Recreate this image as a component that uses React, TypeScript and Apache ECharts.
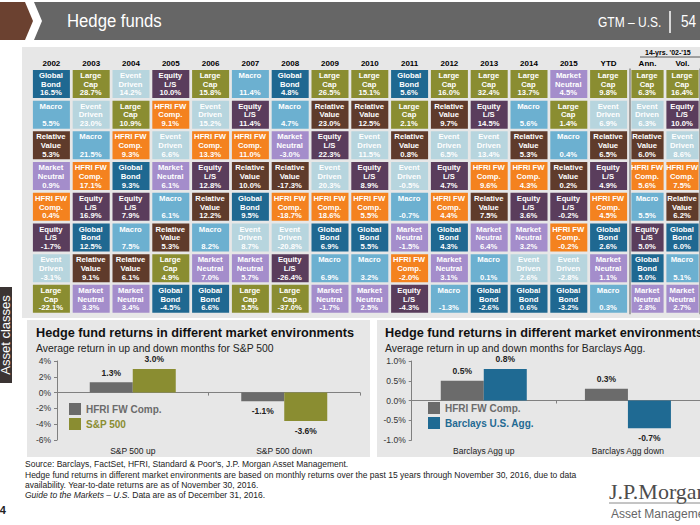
import React, { useEffect, useRef } from "react";
import * as echarts from "echarts";

const FONT = '"Liberation Sans", Arial, sans-serif';

// ---------- Quilt table data (ranked top to bottom in each column) ----------
const mainColumns = ["2002", "2003", "2004", "2005", "2006", "2007", "2008", "2009", "2010", "2011", "2012", "2013", "2014", "2015", "YTD"];
const statColumns = ["Ann.", "Vol."];
const ranks = ["1", "2", "3", "4", "5", "6", "7", "8"];

const r2002 = [["GB", 16.5], ["MA", 5.5], ["RV", 5.3], ["MN", 0.9], ["HF", 0.4], ["EQ", -1.7], ["ED", -3.1], ["LC", -22.1]];
const r2003 = [["LC", 28.7], ["ED", 23.0], ["MA", 21.5], ["HF", 17.1], ["EQ", 16.9], ["GB", 12.5], ["RV", 9.1], ["MN", 3.3]];
const r2004 = [["ED", 14.2], ["LC", 10.9], ["HF", 9.3], ["GB", 9.3], ["EQ", 7.9], ["MA", 7.5], ["RV", 6.1], ["MN", 3.4]];
const r2005 = [["EQ", 10.0], ["HF", 9.1], ["ED", 6.6], ["MN", 6.1], ["MA", 6.1], ["RV", 5.3], ["LC", 4.9], ["GB", -4.5]];
const r2006 = [["LC", 15.8], ["ED", 15.2], ["HF", 13.3], ["EQ", 12.8], ["RV", 12.2], ["MA", 8.2], ["MN", 7.0], ["GB", 6.6]];
const r2007 = [["MA", 11.4], ["EQ", 11.4], ["HF", 11.0], ["RV", 10.0], ["GB", 9.5], ["ED", 8.7], ["MN", 5.7], ["LC", 5.5]];
const r2008 = [["GB", 4.8], ["MA", 4.7], ["MN", -3.0], ["RV", -17.3], ["HF", -18.7], ["ED", -20.8], ["EQ", -26.4], ["LC", -37.0]];
const r2009 = [["LC", 26.5], ["RV", 23.0], ["EQ", 22.3], ["ED", 20.3], ["HF", 18.6], ["GB", 6.9], ["MA", 6.9], ["MN", -1.7]];
const r2010 = [["LC", 15.1], ["RV", 12.5], ["ED", 11.5], ["EQ", 8.9], ["HF", 5.5], ["GB", 5.5], ["MA", 3.2], ["MN", 2.5]];
const r2011 = [["GB", 5.6], ["LC", 2.1], ["RV", 0.8], ["ED", -0.5], ["MA", -0.7], ["MN", -1.5], ["HF", -2.0], ["EQ", -4.3]];
const r2012 = [["LC", 16.0], ["RV", 9.7], ["ED", 6.5], ["EQ", 4.7], ["HF", 4.4], ["GB", 4.3], ["MN", 3.1], ["MA", -1.3]];
const r2013 = [["LC", 32.4], ["EQ", 14.5], ["ED", 13.4], ["HF", 9.6], ["RV", 7.5], ["MN", 6.4], ["MA", 0.1], ["GB", -2.6]];
const r2014 = [["LC", 13.7], ["MA", 5.6], ["RV", 5.3], ["HF", 4.3], ["EQ", 3.6], ["MN", 3.2], ["ED", 2.6], ["GB", 0.6]];
const r2015 = [["MN", 4.5], ["LC", 1.4], ["MA", 0.4], ["RV", 0.2], ["EQ", -0.2], ["HF", -0.2], ["ED", -2.8], ["GB", -3.2]];
const rYTD = [["LC", 9.8], ["ED", 6.9], ["RV", 6.5], ["EQ", 4.9], ["HF", 4.5], ["GB", 2.6], ["MN", 1.1], ["MA", 0.3]];
const rAnn = [["LC", 6.3], ["ED", 6.3], ["RV", 6.0], ["HF", 5.6], ["MA", 5.5], ["EQ", 5.0], ["GB", 5.0], ["MN", 2.8]];
const rVol = [["LC", 16.4], ["EQ", 10.0], ["ED", 8.6], ["HF", 7.5], ["RV", 6.2], ["GB", 6.0], ["MA", 5.1], ["MN", 2.7]];

const strategyNames: Record<string, string> = {
  GB: "Global\nBond",
  LC: "Large\nCap",
  ED: "Event\nDriven",
  EQ: "Equity\nL/S",
  MA: "Macro\n",
  HF: "HFRI FW\nComp.",
  RV: "Relative\nValue",
  MN: "Market\nNeutral",
};

// ---------- Bar chart data ----------
const spxCategories = ["S&P 500 up", "S&P 500 down"];
const spxHfri = [1.3, -1.1];
const spxIndex = [3.0, -3.6];
const aggCategories = ["Barclays Agg up", "Barclays Agg down"];
const aggHfri = [0.5, 0.3];
const aggIndex = [0.8, -0.7];

// ---------- Styles ----------
const strategyColors: Record<string, string> = {
  GB: "#1f6891",
  LC: "#8a8d31",
  ED: "#b7d5de",
  EQ: "#5a3d5c",
  MA: "#6cb0d0",
  HF: "#f4821f",
  RV: "#5f3b2b",
  MN: "#a48dcb",
};
const GRAY = "#6b6b6b";
const OLIVE = "#8a8d31";
const BLUE = "#1f6a93";
const PANEL = "#e7e7e7";

const fmtPct = (v: number) => v.toFixed(1) + "%";

type Cell = { col: number; row: number; code: string; value: number };
const toCells = (cols: any[][]): Cell[] => {
  const out: Cell[] = [];
  cols.forEach((col, ci) =>
    col.forEach((entry: any, ri: number) => out.push({ col: ci, row: ri, code: entry[0], value: entry[1] }))
  );
  return out;
};
const mainCells = toCells([r2002, r2003, r2004, r2005, r2006, r2007, r2008, r2009, r2010, r2011, r2012, r2013, r2014, r2015, rYTD]);
const statCells = toCells([rAnn, rVol]);

const makeRender = (cells: Cell[]) => (params: any, api: any) => {
  const c = cells[params.dataIndex];
  const p = api.coord([c.col, c.row]);
  const s = api.size([1, 1]);
  const w = Math.min(Math.abs(s[0]) - 2.8, 37.5);
  const h = Math.abs(s[1]) - 2.7;
  return {
    type: "group",
    children: [
      {
        type: "rect",
        shape: { x: p[0] - w / 2, y: p[1] - h / 2, width: w, height: h },
        style: { fill: strategyColors[c.code] },
      },
      {
        type: "text",
        x: p[0] - 0.5,
        y: p[1] + 0.3,
        style: {
          text: strategyNames[c.code] + "\n" + fmtPct(c.value),
          fill: "#ffffff",
          fontSize: 7.7,
          fontWeight: "bold",
          fontFamily: FONT,
          align: "center",
          verticalAlign: "middle",
          textAlign: "center",
          textVerticalAlign: "middle",
          lineHeight: 8.7,
        },
      },
    ],
  };
};

const barData = (arr: number[]) =>
  arr.map((v) => ({ value: v, label: { position: v >= 0 ? "top" : "bottom" } }));

const barLabel = {
  show: true,
  formatter: (p: any) => fmtPct(p.value),
  fontSize: 8.5,
  fontWeight: "bold",
  color: "#222",
  distance: 5,
};

const headerLabel = { fontSize: 8, fontWeight: "bold", color: "#000", margin: 1 };

const valueAxisBase = {
  type: "value",
  axisLine: { show: true, lineStyle: { color: "#808080" } },
  axisTick: { show: true, length: 3, lineStyle: { color: "#808080" } },
  splitLine: { show: false },
};

const option: any = {
  animation: false,
  textStyle: { fontFamily: FONT },
  grid: [
    { left: 31.5, top: 68.6, width: 597, height: 245.6 },
    { left: 630, top: 68.6, width: 90, height: 245.6 },
    { left: 57, top: 361, width: 303, height: 79 },
    { left: 411.7, top: 361, width: 300, height: 79 },
  ],
  xAxis: [
    {
      type: "category", gridIndex: 0, position: "top", data: mainColumns,
      axisLine: { show: false }, axisTick: { show: false }, axisLabel: headerLabel,
    },
    {
      type: "category", gridIndex: 1, position: "top", data: statColumns,
      axisLine: { show: false }, axisTick: { show: false }, axisLabel: headerLabel,
      splitLine: { show: true, interval: (i: number) => i === 1, lineStyle: { color: "#8c8c8c", width: 1.5 } },
    },
    {
      type: "category", gridIndex: 2, position: "bottom", data: spxCategories,
      axisLine: { show: true, onZero: true, lineStyle: { color: "#808080" } },
      axisTick: { show: true, length: 3, lineStyle: { color: "#808080" } },
      axisLabel: { show: false },
    },
    {
      type: "category", gridIndex: 2, position: "bottom", data: spxCategories,
      axisLine: { show: false, onZero: false }, axisTick: { show: false },
      axisLabel: { fontSize: 8.5, color: "#222", margin: 6 },
    },
    {
      type: "category", gridIndex: 3, position: "bottom", data: aggCategories,
      axisLine: { show: true, onZero: true, lineStyle: { color: "#808080" } },
      axisTick: { show: true, length: 3, lineStyle: { color: "#808080" } },
      axisLabel: { show: false },
    },
    {
      type: "category", gridIndex: 3, position: "bottom", data: aggCategories,
      axisLine: { show: false, onZero: false }, axisTick: { show: false },
      axisLabel: { fontSize: 8.5, color: "#222", margin: 6 },
    },
  ],
  yAxis: [
    { type: "category", gridIndex: 0, data: ranks, inverse: true, show: false },
    { type: "category", gridIndex: 1, data: ranks, inverse: true, show: false },
    {
      ...valueAxisBase, gridIndex: 2, min: -6, max: 4, interval: 2,
      axisLabel: { formatter: (v: number) => v + "%", fontSize: 8.5, color: "#333", margin: 6 },
    },
    {
      ...valueAxisBase, gridIndex: 3, min: -1, max: 1, interval: 0.5,
      axisLabel: { formatter: (v: number) => v.toFixed(1) + "%", fontSize: 8.5, color: "#333", margin: 6 },
    },
  ],
  legend: [
    {
      left: 69, top: 403, orient: "vertical", padding: 0, itemWidth: 12, itemHeight: 12, itemGap: 3,
      icon: "rect", selectedMode: false,
      textStyle: { fontSize: 10, fontWeight: "bold" },
      data: [
        { name: "HFRI FW Comp.", textStyle: { color: GRAY } },
        { name: "S&P 500", textStyle: { color: OLIVE } },
      ],
    },
    {
      left: 428, top: 402, orient: "vertical", padding: 0, itemWidth: 12, itemHeight: 12, itemGap: 3,
      icon: "rect", selectedMode: false,
      textStyle: { fontSize: 10, fontWeight: "bold" },
      data: [
        { name: "HFRI FW Comp.", textStyle: { color: GRAY } },
        { name: "Barclays U.S. Agg.", textStyle: { color: BLUE } },
      ],
    },
  ],
  series: [
    {
      type: "custom", name: "quilt", xAxisIndex: 0, yAxisIndex: 0,
      data: mainCells.map((c) => [c.col, c.row]),
      renderItem: makeRender(mainCells),
    },
    {
      type: "custom", name: "quilt14", xAxisIndex: 1, yAxisIndex: 1,
      data: statCells.map((c) => [c.col, c.row]),
      renderItem: makeRender(statCells),
    },
    {
      type: "bar", name: "HFRI FW Comp.", xAxisIndex: 2, yAxisIndex: 2,
      data: barData(spxHfri), barWidth: 43, barGap: "0%", itemStyle: { color: GRAY }, label: barLabel,
    },
    {
      type: "bar", name: "S&P 500", xAxisIndex: 2, yAxisIndex: 2,
      data: barData(spxIndex), barWidth: 43, barGap: "0%", itemStyle: { color: OLIVE }, label: barLabel,
    },
    {
      type: "bar", name: "HFRI FW Comp.", xAxisIndex: 4, yAxisIndex: 3,
      data: barData(aggHfri), barWidth: 43, barGap: "0%", itemStyle: { color: GRAY }, label: barLabel,
    },
    {
      type: "bar", name: "Barclays U.S. Agg.", xAxisIndex: 4, yAxisIndex: 3,
      data: barData(aggIndex), barWidth: 43, barGap: "0%", itemStyle: { color: BLUE }, label: barLabel,
    },
  ],
  graphic: {
    elements: [
      // backgrounds
      { type: "rect", z: -10, shape: { x: 22, y: 47, width: 678, height: 271 }, style: { fill: PANEL } },
      { type: "rect", z: -10, shape: { x: 27, y: 320, width: 343, height: 137 }, style: { fill: PANEL } },
      { type: "rect", z: -10, shape: { x: 377, y: 320, width: 323, height: 137 }, style: { fill: PANEL } },
      // header band
      { type: "polygon", z: 5, shape: { points: [[0, 2], [25, 2], [33, 21], [25, 40], [0, 40]] }, style: { fill: "#6b4130" } },
      { type: "polygon", z: 5, shape: { points: [[34, 2], [700, 2], [700, 40], [34, 40], [42, 21]] }, style: { fill: "#666666" } },
      {
        type: "text", z: 6, x: 67, y: 21, scaleX: 0.88,
        style: { text: "Hedge funds", fill: "#ffffff", font: '19px "Liberation Sans"', textVerticalAlign: "middle" },
      },
      {
        type: "text", z: 6, x: 598, y: 22, scaleX: 0.8,
        style: { text: "GTM – U.S.", fill: "#ffffff", font: '15px "Liberation Sans"', textVerticalAlign: "middle" },
      },
      { type: "line", z: 6, shape: { x1: 670, y1: 11, x2: 670, y2: 33 }, style: { stroke: "#ffffff", lineWidth: 1.5 } },
      {
        type: "text", z: 6, x: 681, y: 22, scaleX: 0.85,
        style: { text: "54", fill: "#ffffff", font: '16px "Liberation Sans"', textVerticalAlign: "middle" },
      },
      // 14-year header
      {
        type: "text", z: 6, x: 645, y: 52,
        style: { text: "14-yrs. '02-'15", fill: "#000", font: 'bold 7px "Liberation Sans"', textVerticalAlign: "middle" },
      },
      { type: "line", z: 6, shape: { x1: 640, y1: 57, x2: 700, y2: 57 }, style: { stroke: "#333", lineWidth: 0.8 } },
      // side tab
      { type: "rect", z: 5, shape: { x: 0, y: 287, width: 12, height: 96 }, style: { fill: "#3b3433" } },
      {
        type: "text", z: 6, x: 5.5, y: 335, rotation: Math.PI / 2,
        style: { text: "Asset classes", fill: "#ffffff", font: '13px "Liberation Sans"', textAlign: "center", textVerticalAlign: "middle" },
      },
      // panel titles
      {
        type: "text", z: 6, x: 36, y: 333,
        style: { text: "Hedge fund returns in different market environments", fill: "#111", font: 'bold 12.7px "Liberation Sans"', textVerticalAlign: "middle" },
      },
      {
        type: "text", z: 6, x: 36, y: 348.5,
        style: { text: "Average return in up and down months for S&P 500", fill: "#222", font: '10.4px "Liberation Sans"', textVerticalAlign: "middle" },
      },
      {
        type: "text", z: 6, x: 385, y: 333,
        style: { text: "Hedge fund returns in different market environments", fill: "#111", font: 'bold 12.7px "Liberation Sans"', textVerticalAlign: "middle" },
      },
      {
        type: "text", z: 6, x: 385, y: 348.5,
        style: { text: "Average return in up and down months for Barclays Agg.", fill: "#222", font: '10.4px "Liberation Sans"', textVerticalAlign: "middle" },
      },
      // footnotes
      {
        type: "text", z: 6, x: 25, y: 464,
        style: { text: "Source: Barclays, FactSet, HFRI, Standard & Poor's, J.P. Morgan Asset Management.", fill: "#222", font: '8.5px "Liberation Sans"', textVerticalAlign: "middle" },
      },
      {
        type: "text", z: 6, x: 25, y: 474.5,
        style: { text: "Hedge fund returns in different market environments are based on monthly returns over the past 15 years through November 30, 2016, due to data", fill: "#222", font: '8.5px "Liberation Sans"', textVerticalAlign: "middle" },
      },
      {
        type: "text", z: 6, x: 25, y: 484.5,
        style: { text: "availability. Year-to-date returns are as of November 30, 2016.", fill: "#222", font: '8.5px "Liberation Sans"', textVerticalAlign: "middle" },
      },
      {
        type: "text", z: 6, x: 25, y: 494.5,
        style: {
          text: "{i|Guide to the Markets – U.S.} Data are as of December 31, 2016.",
          fill: "#222", font: '8.5px "Liberation Sans"', textVerticalAlign: "middle",
          rich: { i: { fontStyle: "italic", fontSize: 8.5, fontFamily: FONT, fill: "#222" } },
        },
      },
      {
        type: "text", z: 6, x: 6, y: 510,
        style: { text: "54", fill: "#222", font: 'bold 11px "Liberation Sans"', textAlign: "right", textVerticalAlign: "middle" },
      },
      // logo
      {
        type: "text", z: 6, x: 609, y: 491,
        style: { text: "J.P.Morgan", fill: "#4d4d4d", font: '22px "Liberation Serif"', textVerticalAlign: "middle" },
      },
      { type: "line", z: 6, shape: { x1: 609, y1: 503, x2: 700, y2: 503 }, style: { stroke: "#6d6d6d", lineWidth: 0.8 } },
      {
        type: "text", z: 6, x: 611, y: 514,
        style: { text: "Asset Management", fill: "#666", font: '12px "Liberation Sans"', textVerticalAlign: "middle" },
      },
    ],
  },
};

export default function App() {
  const ref = useRef<HTMLDivElement>(null);
  useEffect(() => {
    document.body.style.margin = "0";
    const chart = echarts.init(ref.current as HTMLDivElement, null, { renderer: "svg" });
    chart.setOption(option);
    return () => chart.dispose();
  }, []);
  return <div ref={ref} style={{ width: 700, height: 525 }} />;
}
